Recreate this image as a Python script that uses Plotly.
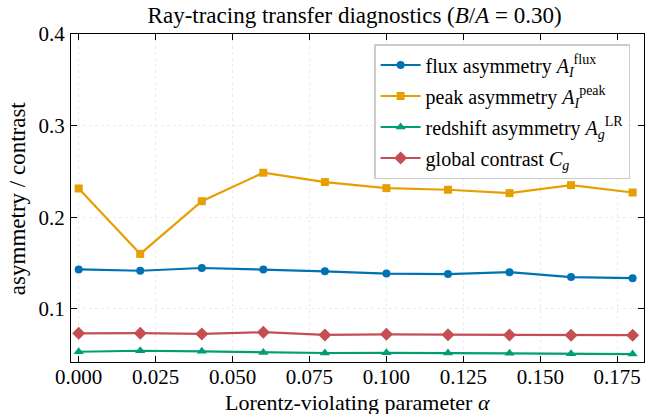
import plotly.graph_objects as go

# Lorentz-violating parameter values
alpha = [0.00, 0.02, 0.04, 0.06, 0.08, 0.10, 0.12, 0.14, 0.16, 0.18]

# Diagnostics for B/A = 0.30
flux_asym = [0.143, 0.1416, 0.1446, 0.143, 0.141, 0.1385, 0.138, 0.140, 0.1347, 0.1335]
peak_asym = [0.2314, 0.160, 0.2175, 0.2486, 0.2384, 0.2318, 0.230, 0.2263, 0.235, 0.227]
redshift_asym = [0.0532, 0.0543, 0.0536, 0.0525, 0.0518, 0.0520, 0.0518, 0.0516, 0.0510, 0.0507]
global_contrast = [0.0733, 0.0735, 0.0726, 0.0745, 0.0715, 0.0722, 0.0718, 0.0715, 0.0713, 0.0713]

x_ticks = [0.000, 0.025, 0.050, 0.075, 0.100, 0.125, 0.150, 0.175]
y_ticks = [0.1, 0.2, 0.3, 0.4]

FONT = "Liberation Serif"

series = [
    ("flux asymmetry <i>A</i><sub><i>I</i></sub><sup>flux</sup>", flux_asym, "#0072B2", "circle", 8),
    ("peak asymmetry <i>A</i><sub><i>I</i></sub><sup>peak</sup>", peak_asym, "#E69F00", "square", 8),
    ("redshift asymmetry <i>A</i><sub><i>g</i></sub><sup>LR</sup>", redshift_asym, "#009E73", "triangle-up", 9),
    ("global contrast <i>C</i><sub><i>g</i></sub>", global_contrast, "#C44E52", "diamond", 10),
]

fig = go.Figure()
for i, (name, vals, color, sym, size) in enumerate(series):
    fig.add_trace(go.Scatter(
        x=alpha, y=vals, name=name, mode="lines+markers",
        legendgroup=f"g{i}",
        line=dict(color=color, width=2.2),
        marker=dict(symbol=sym, size=size, color=color),
    ))

axis_common = dict(
    showline=True, linecolor="black", linewidth=1.2, mirror="ticks",
    ticks="inside", ticklen=6, tickwidth=1, tickcolor="black",
    showgrid=True, gridcolor="#ececec", griddash="dot", gridwidth=1,
    zeroline=False, automargin=False,
    tickfont=dict(family=FONT, size=21, color="black"),
)

fig.update_layout(
    width=657, height=414,
    margin=dict(l=71, r=13, t=34, b=52),
    paper_bgcolor="white", plot_bgcolor="white",
    font=dict(family=FONT, color="black"),
    title=dict(
        text="Ray-tracing transfer diagnostics (<i>B</i>/<i>A</i> = 0.30)",
        xref="paper", x=0.495, xanchor="center", y=0.965, yanchor="middle",
        font=dict(family=FONT, size=23, color="black"),
    ),
    xaxis=dict(
        range=[-0.0025, 0.1837], tickvals=x_ticks,
        ticktext=[f"{v:.3f}" for v in x_ticks],
        ticklabelstandoff=-4,
        **axis_common,
    ),
    yaxis=dict(
        range=[0.042, 0.4], tickvals=y_ticks,
        ticktext=[f"{v:.1f}" for v in y_ticks],
        ticklabelstandoff=1,
        **axis_common,
    ),
    annotations=[
        dict(text="Lorentz-violating parameter <i>α</i>", xref="paper", yref="paper",
             x=0.5, y=-0.124, xanchor="center", yanchor="middle", showarrow=False,
             font=dict(family=FONT, size=22, color="black")),
        dict(text="asymmetry / contrast", xref="paper", yref="paper",
             x=-0.094, y=0.5, xanchor="center", yanchor="middle", showarrow=False,
             textangle=-90, font=dict(family=FONT, size=23, color="black")),
    ],
    legend=dict(
        x=0.529, y=0.9695, xanchor="left", yanchor="top",
        bgcolor="white", bordercolor="#cccccc", borderwidth=1.5,
        font=dict(family=FONT, size=20, color="black"),
        itemwidth=40, traceorder="grouped", tracegroupgap=2,
    ),
    showlegend=True,
)

fig.write_html("out.html")
